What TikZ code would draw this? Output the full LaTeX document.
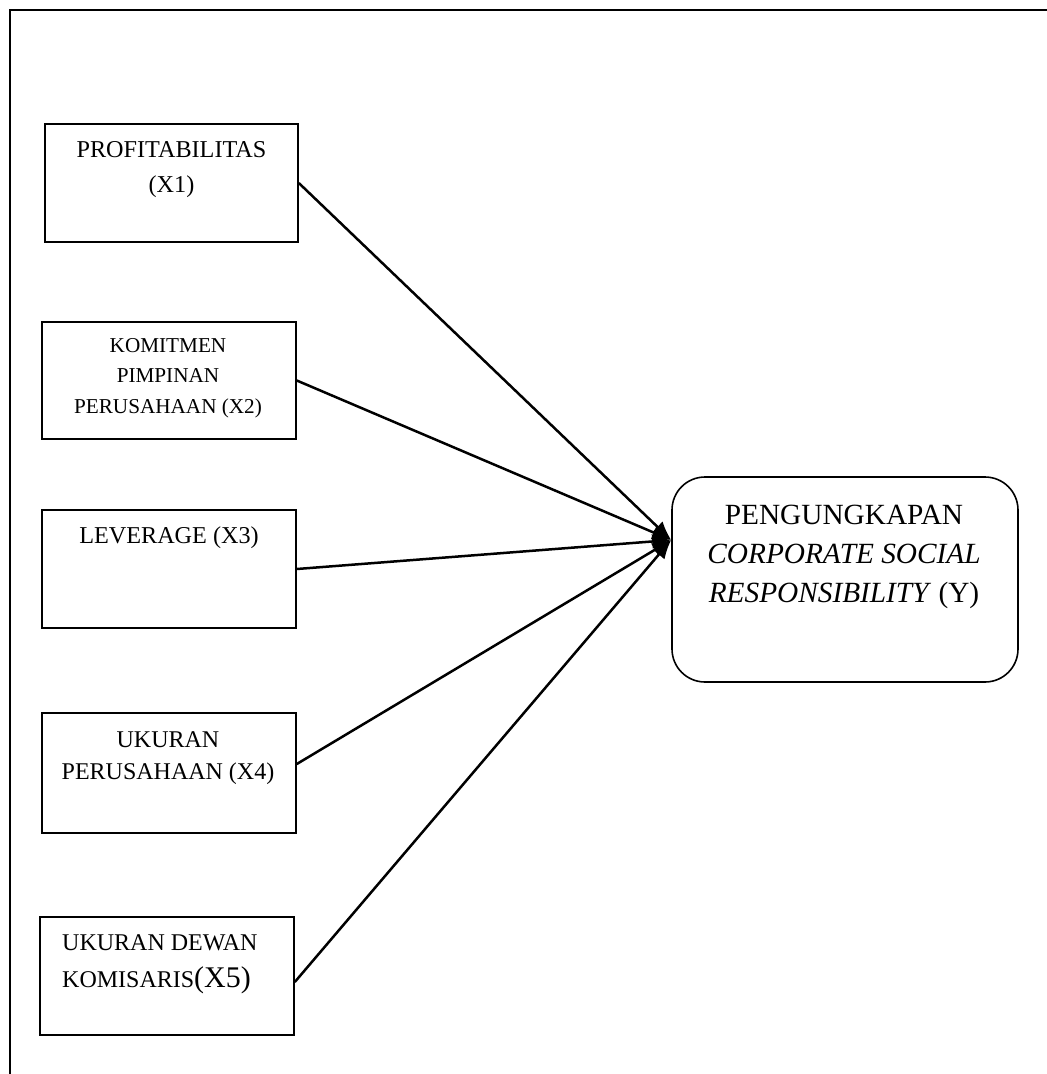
\documentclass[tikz,border=0pt]{standalone}
\usepackage{fontspec}
\setmainfont{Liberation Serif}
\usetikzlibrary{arrows.meta}
\begin{document}
\begin{tikzpicture}[x=1pt,y=-1pt,
  box/.style={draw, line width=1.6pt, inner sep=0pt, rectangle},
  lbl/.style={inner sep=0pt, align=center, anchor=base},
  link/.style={line width=2.5pt, -{Latex[length=19pt,width=15pt]}}
]
\useasboundingbox (0,0) rectangle (1047,1074);
\draw[line width=2.5pt] (10,1074) |- (1047,10);

\node[box, minimum width=253pt, minimum height=118pt] (x1) at (171.5,183) {};
\node[box, minimum width=254pt, minimum height=117pt] (x2) at (169,380.5) {};
\node[box, minimum width=254pt, minimum height=118pt] (x3) at (169,569) {};
\node[box, minimum width=254pt, minimum height=120pt] (x4) at (169,773) {};
\node[box, minimum width=254pt, minimum height=118pt] (x5) at (167,976) {};
\node[box, rounded corners=33pt, minimum width=346pt, minimum height=205pt] (y) at (845,579.5) {};

\node[lbl, font=\fontsize{24.2}{35}\selectfont] (t1) at (171.5,192) {PROFITABILITAS\\(X1)};
\node[lbl, font=\fontsize{21.2}{30.5}\selectfont] (t2) at (168,413) {KOMITMEN\\PIMPINAN\\PERUSAHAAN (X2)};
\node[lbl, font=\fontsize{24.2}{33}\selectfont] (t3) at (169,543) {LEVERAGE (X3)};
\node[lbl, font=\fontsize{24}{32}\selectfont] (t4) at (168,779) {UKURAN\\PERUSAHAAN (X4)};
\node[lbl, align=left, anchor=base west, font=\fontsize{24}{37}\selectfont] (t5) at (62,987) {UKURAN DEWAN\\KOMISARIS{\fontsize{30}{37}\selectfont(X5)}};
\node[lbl, font=\fontsize{29.3}{39}\selectfont] (ty) at (844,602) {PENGUNGKAPAN\\\textit{CORPORATE SOCIAL}\\\textit{RESPONSIBILITY} (Y)};

\coordinate (tip) at ([yshift=39.5pt]y.west);
\draw[link] (x1.east) -- (tip);
\draw[link] (x2.east) -- (tip);
\draw[link] (x3.east) -- (tip);
\draw[link] ([yshift=9pt]x4.east) -- (tip);
\draw[link] ([yshift=-6pt]x5.east) -- (tip);
\end{tikzpicture}
\end{document}
